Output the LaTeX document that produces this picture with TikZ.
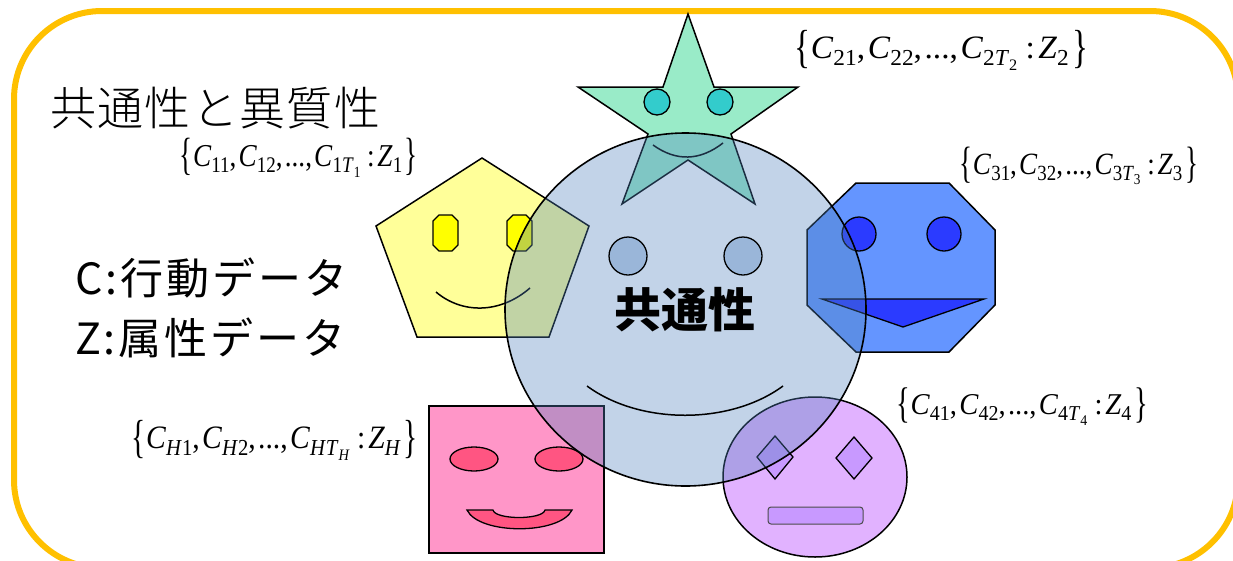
\documentclass[tikz,border=0pt]{standalone}
\usepackage{fontspec}
\usepackage{graphicx}
\setmainfont{Liberation Serif}
\newfontfamily\jp{Noto Sans CJK JP}
\newfontfamily\jplight{Noto Sans CJK JP}[UprightFont=* Light, LetterSpace=3]
\newfontfamily\jpwide{Noto Sans CJK JP}[LetterSpace=7]

\definecolor{frameorange}{HTML}{FFC000}
\definecolor{stargreen}{HTML}{99EBC8}
\definecolor{stareye}{HTML}{33CCCC}
\definecolor{pentayellow}{HTML}{FFFF99}
\definecolor{pentaeye}{HTML}{FFFF00}
\definecolor{octblue}{HTML}{6495FF}
\definecolor{octdark}{HTML}{2B3BFF}
\definecolor{sqpink}{HTML}{FF96C8}
\definecolor{sqred}{HTML}{FF5582}
\definecolor{ellilac}{HTML}{E1B2FF}
\definecolor{elviolet}{HTML}{C899FF}
\definecolor{commonblue}{HTML}{4F81BD}

% set {C_{k1}, C_{k2}, ..., C_{kT_k} : Z_k}
\newcommand\tallbrace[1]{\raisebox{-0.1em}{\scalebox{1}[1.42]{#1}}}
\newcommand\subs[1]{\raisebox{-0.2em}{\scalebox{0.7}{#1}}}
\newcommand\setlab[2]{\tallbrace{\{}\textit{C}\subs{#11},\kern0.08em\textit{C}\subs{#12},\kern0.08em...,\kern0.08em\textit{C}\subs{#1\textit{T}\subs{#2}}\ :\kern0.1em\textit{Z}\subs{#1}\kern0.1em\tallbrace{\}}}

\tikzset{
  outline/.style={draw=black, line width=1.5pt, line join=miter},
  facepart/.style={draw=black, line width=1.3pt},
  smileline/.style={draw=black, line width=1.5pt},
  setlabel/.style={inner sep=0pt, outer sep=0pt},
  jptext/.style={inner sep=0pt, outer sep=0pt, anchor=west, font=\jplight\fontsize{46pt}{50pt}\selectfont},
  legendtext/.style={inner sep=0pt, outer sep=0pt, anchor=west, font=\jpwide\fontsize{43pt}{47pt}\selectfont},
}

\begin{document}
\begin{tikzpicture}[x=1pt,y=-1pt]
\useasboundingbox (0,0) rectangle (1233,560);
\clip (0,0) rectangle (1233,560);

% outer frame
\draw[frameorange, line width=6pt, rounded corners=88pt] (14,11) rectangle (1238,568);

% star face
\path[outline, fill=stargreen] (688,14)--(714,87)--(798,87)--(731,134)--(755,204)--(688,160)--(622,204)--(648,134)--(578,87)--(663,87)--cycle;
\path[facepart, fill=stareye] (657,102) circle[radius=13];
\path[facepart, fill=stareye] (720,102) circle[radius=13];
\draw[smileline] (653,145) .. controls (676.3,161.7) and (699.7,161) .. (723,143);

% pentagon face
\path[outline, fill=pentayellow] (482,158)--(589,226)--(549,337)--(417,337)--(376,226)--cycle;
\path[facepart, fill=pentaeye] (439,215)--(452,215)--(458,221)--(458,245)--(452,251)--(439,251)--(433,245)--(433,221)--cycle;
\path[facepart, fill=pentaeye] (513,215)--(526,215)--(532,221)--(532,245)--(526,251)--(513,251)--(507,245)--(507,221)--cycle;
\draw[smileline] (436,292) .. controls (462,314) and (500,314) .. (530,288);

% octagon face
\path[outline, fill=octblue] (856,183)--(949,183)--(995,230)--(995,305)--(949,352)--(856,352)--(807,305)--(807,230)--cycle;
\path[facepart, fill=octdark] (859,234) circle[radius=17];
\path[facepart, fill=octdark] (944,234) circle[radius=17];
\path[facepart, fill=octdark] (822,299)--(984,299)--(903,327)--cycle;

% square face
\path[outline, fill=sqpink] (429,406) rectangle (604,553);
\path[facepart, fill=sqred] (474,459) ellipse[x radius=24, y radius=12];
\path[facepart, fill=sqred] (559,459) ellipse[x radius=24, y radius=12];
\path[facepart, fill=sqred] (467,510)--(493,510) .. controls (495,520) and (543,520) .. (545,510)--(572,510) .. controls (560,535) and (479,535) .. cycle;

% ellipse face
\path[outline, fill=ellilac] (815,477) ellipse[x radius=92, y radius=80];
\path[facepart, fill=elviolet] (775,436)--(793,457)--(775,479)--(757,457)--cycle;
\path[facepart, fill=elviolet] (854,437)--(872,458)--(854,479)--(836,458)--cycle;
\path[draw=black!70, line width=1pt, fill=elviolet, rounded corners=3pt] (768,507) rectangle (863,524);

% shared face, translucent over the others
\path[fill=commonblue, fill opacity=0.35] (685.5,309.5) ellipse[x radius=180.5, y radius=176.5];
\draw[black, line width=1.6pt] (685.5,309.5) ellipse[x radius=180.5, y radius=176.5];
\path[facepart, fill=commonblue, fill opacity=0.35] (628,256) circle[radius=19];
\path[facepart, fill=commonblue, fill opacity=0.35] (743,256) circle[radius=19];
\draw[smileline] (587,386) .. controls (640,425) and (730,425) .. (783,386);
\node[inner sep=0pt, font=\jp\bfseries\fontsize{47pt}{50pt}\selectfont] (common) at (685,310) {共通性};

% titles
\node[jptext] (title) at (50,108) {共通性と異質性};
\node[legendtext] (legendC) at (75,278) {C:行動データ};
\node[legendtext] (legendZ) at (75,338) {Z:属性データ};

% attribute sets
\node[setlabel] (set1) at (299,157.5) {\resizebox*{238pt}{39pt}{\setlab{1}{1}}};
\node[setlabel] (set2) at (941.5,50) {\resizebox*{293pt}{40pt}{\setlab{2}{2}}};
\node[setlabel] (set3) at (1079,166) {\resizebox*{238pt}{38pt}{\setlab{3}{3}}};
\node[setlabel] (set4) at (1022.5,406.5) {\resizebox*{251pt}{37pt}{\setlab{4}{4}}};
\node[setlabel] (setH) at (275,440) {\resizebox*{286pt}{40pt}{\setlab{\textit{H}}{\textit{H}}}};

\end{tikzpicture}
\end{document}
